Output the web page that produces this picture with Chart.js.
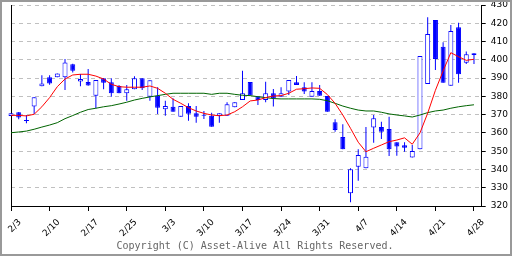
<!DOCTYPE html>
<html>
<head>
<meta charset="utf-8">
<script src="https://cdn.jsdelivr.net/npm/chart.js@4"></script>
<style>
  html, body { margin: 0; padding: 0; background: #fff; }
  canvas { display: block; }
</style>
</head>
<body>
<canvas id="Graph" width="512" height="256"></canvas>
<script>
// one entry per weekday slot, 2/3 .. 4/28
const openPrices = [369.2, 371.3, 366.5, 374.5, 385.5, 390.4, 390.4, 390.4, 397.6, 388.2,
  387.8, 380.4, 389.9, 387.7, 385.7, 381.7, 383.9, 389.9, 379.8, 380.4,
  372.9, 374.3, 368.9, 374.7, 370.7, 369.4, 369.4, 369.3, 369.4, 374.0,
  378.0, 387.9, 380.0, 378.0, 381.7, 379.8, 382.6, 387.7, 385.0, 379.8,
  383.0, 380.2, 365.8, 357.8, 327.0, 341.5, 340.6, 362.9, 363.2, 362.1,
  354.9, 353.3, 346.6, 351.0, 386.8, 421.8, 407.2, 385.8, 417.8, 398.4, 403.6];
const highPrices = [370.8, 371.5, 369.8, 379.5, 391.6, 391.6, 392.5, 400.4, 397.8, 392.2,
  395.0, 389.0, 390.0, 389.9, 386.2, 386.2, 391.0, 389.9, 388.8, 385.0,
  377.6, 378.9, 374.7, 376.2, 374.7, 372.0, 371.0, 370.7, 376.8, 376.8,
  394.0, 387.9, 380.0, 388.0, 384.0, 385.0, 389.0, 391.1, 387.7, 387.7,
  386.2, 380.2, 367.5, 364.7, 340.6, 351.0, 363.2, 369.8, 366.1, 368.9,
  354.9, 354.9, 353.4, 402.1, 423.3, 421.8, 409.6, 419.0, 420.3, 404.5, 403.6];
const lowPrices = [369.2, 367.5, 365.3, 370.4, 385.5, 386.4, 390.4, 383.5, 393.0, 385.5,
  385.8, 373.5, 383.9, 379.8, 381.7, 377.6, 383.9, 383.5, 377.6, 370.4,
  369.4, 371.6, 368.9, 366.7, 365.6, 367.6, 363.4, 365.6, 369.4, 374.0,
  378.0, 380.5, 375.3, 376.8, 374.4, 379.8, 380.7, 386.2, 381.3, 379.8,
  380.4, 371.6, 360.7, 351.0, 322.0, 333.8, 340.6, 354.6, 356.7, 347.4,
  347.5, 349.7, 346.6, 351.0, 386.8, 394.4, 387.5, 385.8, 387.5, 397.7, 397.7];
const closePrices = [370.8, 368.5, 366.5, 379.5, 387.1, 387.1, 392.5, 398.5, 394.0, 389.5,
  386.0, 389.0, 387.5, 381.7, 381.7, 383.9, 389.9, 384.4, 388.8, 373.8,
  374.7, 371.6, 374.7, 370.5, 368.9, 369.4, 363.4, 370.7, 375.7, 376.8,
  381.7, 380.5, 378.0, 381.7, 378.9, 381.7, 389.0, 386.2, 382.6, 383.0,
  380.4, 371.6, 361.6, 351.0, 340.1, 347.9, 347.0, 368.0, 360.7, 351.0,
  352.5, 351.9, 350.1, 402.1, 414.1, 400.5, 387.5, 415.8, 392.1, 403.0, 402.6];
const shortAverage = [369.6, 369.6, 369.3, 370.2, 374.3, 379.3, 385.3, 389.5, 391.7, 392.1,
  392.1, 391.1, 389.5, 386.6, 385.3, 385.0, 385.0, 385.0, 385.7, 384.4,
  381.7, 378.4, 376.2, 373.8, 372.0, 370.7, 369.8, 369.4, 369.8, 371.6,
  374.3, 377.5, 378.0, 379.3, 380.2, 380.4, 381.7, 383.9, 384.2, 384.6,
  384.4, 381.0, 376.2, 369.8, 362.5, 354.9, 349.7, 351.6, 353.4, 355.2,
  356.1, 357.3, 353.8, 360.0, 370.8, 383.3, 393.9, 403.9, 401.7, 399.7, 400.3];
const longAverage = [360.1, 360.5, 361.0, 362.0, 363.2, 364.3, 365.6, 367.8, 369.5, 371.3,
  372.8, 373.5, 374.3, 374.9, 375.8, 376.8, 378.0, 378.9, 379.7, 380.4,
  381.1, 381.7, 381.7, 381.7, 381.7, 381.7, 381.1, 381.7, 381.7, 381.1,
  380.6, 380.4, 379.8, 379.3, 378.8, 378.6, 378.6, 378.6, 378.6, 378.6,
  378.4, 377.6, 376.2, 374.7, 373.5, 372.5, 372.0, 372.0, 371.3, 370.4,
  369.8, 369.3, 368.7, 369.8, 371.1, 372.0, 372.5, 373.5, 374.3, 374.9, 375.4];
const tickLabels = ['2/3', '2/10', '2/17', '2/25', '3/3', '3/10', '3/17', '3/24', '3/31', '4/7', '4/14', '4/21', '4/28'];

const BLUE = '#0000ff';

// slot labels: a date every 5th slot, one spare slot at the right end
const slotLabels = [];
for (let i = 0; i < 62; i++) {
  slotLabels.push(i % 5 === 0 && tickLabels[i / 5] ? tickLabels[i / 5] : '');
}

const bodies = openPrices.map((o, i) => [o, closePrices[i]]);
const wicks = lowPrices.map((l, i) => [l, highPrices[i]]);
const bodyFill = openPrices.map((o, i) => closePrices[i] > o ? '#ffffff' : BLUE);

const smallFont = { family: 'DejaVu Sans', size: 9 };

// white background, grey frame and the copyright line
const framePlugin = {
  id: 'frame',
  beforeDraw(chart) {
    const c = chart.ctx;
    c.save();
    c.fillStyle = '#fff';
    c.fillRect(0, 0, chart.width, chart.height);
    c.restore();
  },
  afterDraw(chart) {
    const c = chart.ctx;
    c.save();
    c.font = '10px "DejaVu Sans Mono"';
    c.fillStyle = '#666';
    c.textAlign = 'center';
    c.textBaseline = 'alphabetic';
    c.fillText('Copyright (C) Asset-Alive All Rights Reserved.', 255, 249);
    c.strokeStyle = '#999';
    c.lineWidth = 2;
    c.strokeRect(1, 1, chart.width - 2, chart.height - 2);
    c.restore();
  }
};

const ctx = document.getElementById('Graph').getContext('2d');
const chart = new Chart(ctx, {
  type: 'bar',
  data: {
    labels: slotLabels,
    datasets: [
      {
        type: 'line', label: 'short', data: shortAverage, yAxisID: 'y',
        borderColor: '#ff0000', borderWidth: 1, pointRadius: 0, tension: 0, order: 0
      },
      {
        type: 'line', label: 'long', data: longAverage, yAxisID: 'y',
        borderColor: '#006400', borderWidth: 1, pointRadius: 0, tension: 0, order: 1
      },
      {
        label: 'body', data: bodies, yAxisID: 'y', grouped: false, clip: false,
        barThickness: 5, minBarLength: 1, backgroundColor: bodyFill, borderColor: BLUE,
        borderWidth: 1, borderSkipped: false, inflateAmount: 0, order: 2
      },
      {
        label: 'wick', data: wicks, yAxisID: 'y', grouped: false, clip: false,
        barThickness: 1, backgroundColor: BLUE, borderWidth: 0,
        borderSkipped: false, inflateAmount: 0, order: 3
      }
    ]
  },
  options: {
    responsive: false,
    animation: false,
    events: [],
    layout: { autoPadding: false, padding: { left: 11, right: 2, top: 5, bottom: 0 } },
    plugins: { legend: { display: false }, tooltip: { enabled: false } },
    scales: {
      x: {
        offset: false,
        grid: {
          offset: false, drawOnChartArea: false, tickLength: 5,
          tickColor: c => (c.tick && c.tick.label) ? '#000' : 'rgba(0,0,0,0)'
        },
        border: { color: '#000', width: 1 },
        ticks: {
          autoSkip: false, minRotation: 45, maxRotation: 45,
          color: '#000', font: smallFont, padding: 6, labelOffset: 9
        },
        // fixed height, and no extra side room for the rotated labels
        afterFit: s => { s.height = 50; s.paddingLeft = 0; s.paddingRight = 0; }
      },
      y: {
        position: 'right', min: 320, max: 430,
        ticks: { stepSize: 10, color: '#000', font: smallFont, padding: 5 },
        grid: { color: '#c0c0c0', lineWidth: 1, tickLength: 4, tickColor: '#000' },
        border: { color: '#000', width: 1, dash: [4, 4] },
        afterFit: s => { s.width = 28.3; s.paddingTop = 0; s.paddingBottom = 0; }
      },
      yl: {
        position: 'left',
        ticks: { display: false },
        grid: { display: false },
        border: { color: '#000', width: 1 },
        afterFit: s => { s.width = 0; s.paddingTop = 0; s.paddingBottom = 0; }
      }
    }
  },
  plugins: [framePlugin]
});
</script>
</body>
</html>
